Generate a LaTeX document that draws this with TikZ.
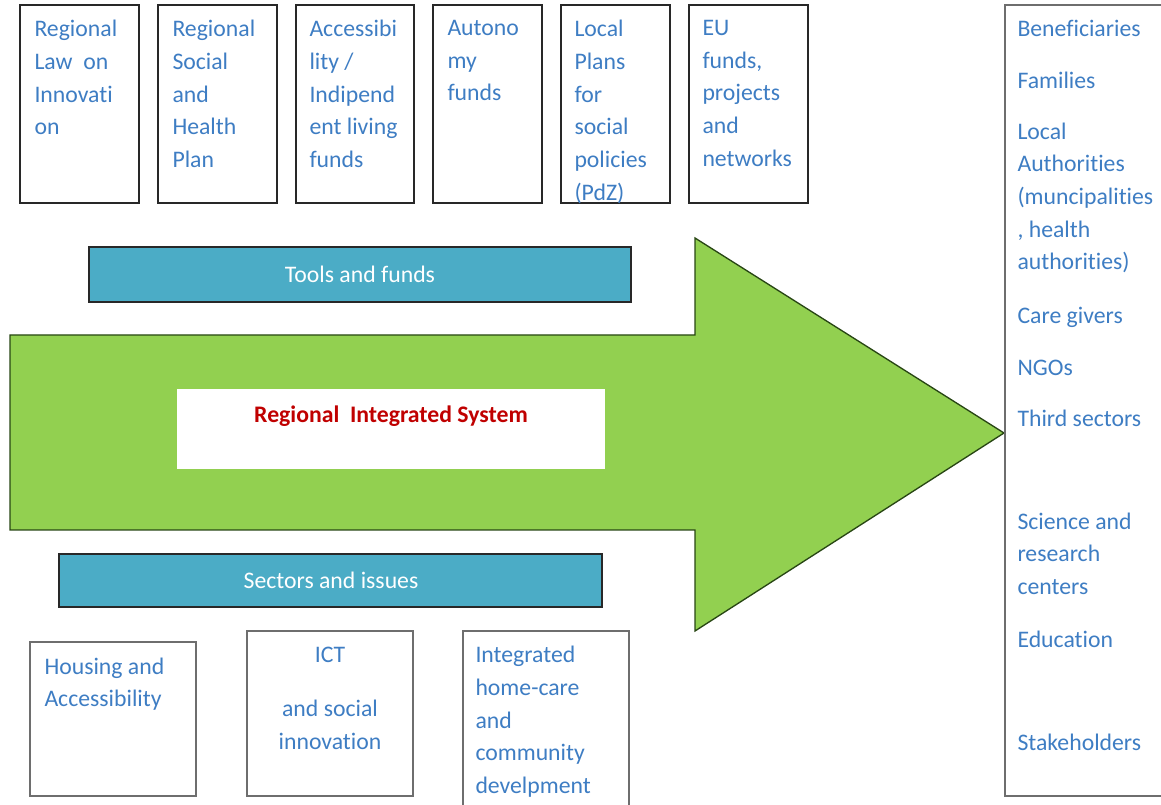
\documentclass[tikz,border=0pt]{standalone}
\usepackage{fontspec}
\setmainfont{Carlito}[Ligatures=CommonOff]
\usetikzlibrary{calc}
\tikzset{every picture/.style={line width=0.75pt}}

\definecolor{txtblue}{RGB}{62,125,195}
\definecolor{barteal}{RGB}{75,172,198}
\definecolor{arrowgreen}{RGB}{146,208,80}
\definecolor{titlered}{RGB}{192,0,0}

\tikzset{
  boxline/.style={draw={rgb, 255:red, 40; green, 40; blue, 40}, line width=1.3pt},
  softline/.style={draw={rgb, 255:red, 110; green, 110; blue, 110}, line width=1pt},
  boxtext/.style={anchor=north west, inner sep=0pt, align=left, text=txtblue,
    font=\fontsize{17.8}{24.5}\selectfont, execute at begin node=\strut},
  bartext/.style={inner sep=0pt, text=white, font=\fontsize{17.8}{24.5}\selectfont},
}

\begin{document}
\begin{tikzpicture}[x=0.75pt,y=0.75pt,yscale=-1,xscale=1]
\useasboundingbox (0,0) rectangle (1161,805);

%Shape: Arrow
\draw [fill=arrowgreen, draw={rgb, 255:red, 40; green, 70; blue, 20}, line width=1pt]
  (10,335) -- (695,335) -- (695,238) -- (1004,433) -- (695,631) -- (695,530) -- (10,530) -- cycle ;
%Shape: Rectangle
\fill [white] (177,389) -- (605,389) -- (605,469) -- (177,469) -- cycle ;

%Shape: Rectangle
\draw [boxline] (20,5) -- (139,5) -- (139,203) -- (20,203) -- cycle ;
%Shape: Rectangle
\draw [boxline] (158,5) -- (277,5) -- (277,203) -- (158,203) -- cycle ;
%Shape: Rectangle
\draw [boxline] (296,5) -- (414,5) -- (414,203) -- (296,203) -- cycle ;
%Shape: Rectangle
\draw [boxline] (433,5) -- (542,5) -- (542,203) -- (433,203) -- cycle ;
%Shape: Rectangle
\draw [boxline] (561,5) -- (670,5) -- (670,203) -- (561,203) -- cycle ;
%Shape: Rectangle
\draw [boxline] (689,5) -- (808,5) -- (808,203) -- (689,203) -- cycle ;

%Shape: Rectangle
\draw [softline] (1170,5) -- (1005,5) -- (1005,796) -- (1170,796) ;

%Shape: Rectangle
\draw [boxline, fill=barteal] (89,247) -- (631,247) -- (631,302) -- (89,302) -- cycle ;
%Shape: Rectangle
\draw [boxline, fill=barteal] (59,554) -- (602,554) -- (602,607) -- (59,607) -- cycle ;

%Shape: Rectangle
\draw [softline] (30,642) -- (196,642) -- (196,796) -- (30,796) -- cycle ;
%Shape: Rectangle
\draw [softline] (247,631) -- (413,631) -- (413,796) -- (247,796) -- cycle ;
%Shape: Rectangle
\draw [softline] (463,631) -- (629,631) -- (629,812) -- (463,812) -- cycle ;

% Text Node
\node [boxtext] (law) at (34,19.8) {Regional\\Law~~on\\Innovati\\on};
% Text Node
\node [boxtext] (plan) at (172,19.8) {Regional\\Social\\and\\Health\\Plan};
% Text Node
\node [boxtext] (access) at (309,19.8) {Accessibi\\lity /\\Indipend\\ent living\\funds};
% Text Node
\node [boxtext] (autonomy) at (447,19.8) {Autono\\my\\funds};
% Text Node
\node [boxtext] (localplans) at (574,19.8) {Local\\Plans\\for\\social\\policies\\(PdZ)};
% Text Node
\node [boxtext] (eufunds) at (702,19.8) {EU\\funds,\\projects\\and\\networks};

% Text Node
\node [bartext] (tools) at (360,274.5) {Tools and funds};
% Text Node
\node [bartext] (sectors) at (331,580.5) {Sectors and issues};
% Text Node
\node [anchor=base, inner sep=0pt, text=titlered, font=\fontsize{17.8}{24.5}\selectfont\bfseries] (system) at (391,423) {Regional~~Integrated System};

% Text Node
\node [boxtext] (housing) at (44,657.3) {Housing and\\Accessibility};
% Text Node
\node [boxtext, anchor=north, align=center] (ict) at (330,646.8) {ICT\\[16pt]and social\\innovation};
% Text Node
\node [boxtext] (homecare) at (475,645.8) {Integrated\\home-care\\and\\community\\develpment};

% Text Node
\node [boxtext] (benef) at (1017,13.1) {Beneficiaries};
% Text Node
\node [boxtext] (families) at (1017,65.1) {Families};
% Text Node
\node [boxtext] (authorities) at (1017,122.3) {Local\\Authorities\\(muncipalities\\, health\\authorities)};
% Text Node
\node [boxtext] (carers) at (1017,300.1) {Care givers};
% Text Node
\node [boxtext] (ngos) at (1017,352.1) {NGOs};
% Text Node
\node [boxtext] (third) at (1017,403.1) {Third sectors};
% Text Node
\node [boxtext] (science) at (1017,512.3) {Science and\\research\\centers};
% Text Node
\node [boxtext] (education) at (1017,624.1) {Education};
% Text Node
\node [boxtext] (stake) at (1017,727.1) {Stakeholders};

\end{tikzpicture}
\end{document}
